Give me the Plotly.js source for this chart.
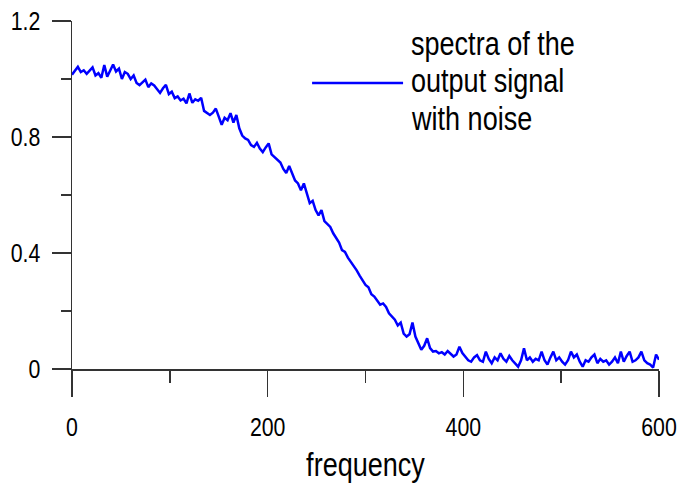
<!DOCTYPE html>
<html>
<head>
<meta charset="utf-8">
<script src="https://cdn.plot.ly/plotly-3.0.1.min.js"></script>
<style>
  html, body { margin: 0; padding: 0; background: #fff; }
  #chart { width: 681px; height: 483px; }
</style>
</head>
<body>
<div id="chart"></div>
<script>
// Spectrum of the output signal with noise, sampled every 3 frequency units (0..600)
const FREQ_STEP = 3;
const amplitude = [
  1.015, 1.030, 1.042, 1.024, 1.030, 1.018, 1.028, 1.040, 1.012, 1.020,
  1.004, 1.048, 1.008, 1.030, 1.050, 1.026, 1.036, 1.000, 1.024, 1.018,
  1.000, 1.012, 0.986, 0.979, 0.990, 0.998, 0.972, 0.985, 0.978, 0.966,
  0.952, 0.968, 0.980, 0.948, 0.956, 0.934, 0.940, 0.926, 0.932, 0.916,
  0.950, 0.918, 0.930, 0.925, 0.935, 0.890, 0.882, 0.876, 0.884, 0.898,
  0.870, 0.842, 0.866, 0.858, 0.882, 0.850, 0.876, 0.830, 0.805, 0.795,
  0.790, 0.772, 0.766, 0.780, 0.760, 0.748, 0.764, 0.778, 0.740, 0.730,
  0.722, 0.712, 0.690, 0.676, 0.700, 0.672, 0.650, 0.640, 0.616, 0.640,
  0.606, 0.572, 0.580, 0.548, 0.530, 0.548, 0.510, 0.500, 0.490, 0.468,
  0.450, 0.436, 0.410, 0.404, 0.384, 0.370, 0.352, 0.340, 0.322, 0.308,
  0.290, 0.282, 0.258, 0.250, 0.236, 0.222, 0.226, 0.214, 0.192, 0.180,
  0.170, 0.150, 0.160, 0.122, 0.112, 0.120, 0.160, 0.112, 0.090, 0.066,
  0.080, 0.106, 0.072, 0.060, 0.062, 0.054, 0.058, 0.050, 0.062, 0.052,
  0.043, 0.050, 0.077, 0.055, 0.043, 0.030, 0.025, 0.040, 0.048, 0.030,
  0.025, 0.060, 0.035, 0.020, 0.040, 0.030, 0.054, 0.035, 0.025, 0.045,
  0.030, 0.020, 0.008, 0.030, 0.071, 0.030, 0.040, 0.025, 0.035, 0.030,
  0.060, 0.030, 0.015, 0.040, 0.060, 0.030, 0.040, 0.025, 0.015, 0.030,
  0.060, 0.040, 0.050, 0.025, 0.008, 0.030, 0.025, 0.040, 0.050, 0.020,
  0.035, 0.025, 0.030, 0.015, 0.025, 0.040, 0.020, 0.060, 0.025, 0.045,
  0.060, 0.025, 0.030, 0.040, 0.060, 0.030, 0.020, 0.015, 0.005, 0.050,
  0.032
];
const frequency = amplitude.map((_, i) => i * FREQ_STEP);

const xTickVals = [0, 200, 400, 600];
const xTickText = ['0', '200', '400', '600'];
const yTickVals = [0, 0.4, 0.8, 1.2];
const yTickText = ['0', '0.4', '0.8', '1.2'];
const legendLines = ['spectra of the', 'output signal', 'with noise'];
const xTitle = 'frequency';

const FONT = '"Liberation Sans", Arial, sans-serif';
const NARROW = 0.82;            // horizontal squeeze giving a narrow sans look
const AXIS_COLOR = '#333333';
const LINE_COLOR = 'rgb(0,0,255)';

const trace = {
  x: frequency,
  y: amplitude,
  type: 'scatter',
  mode: 'lines',
  line: { color: LINE_COLOR, width: 2.5 },
  showlegend: false,
  hoverinfo: 'x+y'
};

// Hand-placed key: a line sample followed by three lines of text
const keyTop = 0.935, keyStep = 0.107;
const annotations = legendLines.map((t, i) => ({
  xref: 'paper', yref: 'paper',
  x: 0.5758, y: keyTop - i * keyStep,
  xanchor: 'left', yanchor: 'middle', align: 'left',
  text: t, showarrow: false, borderpad: 0,
  font: { family: FONT, size: 33, color: '#000' }
}));

const layout = {
  width: 681,
  height: 483,
  margin: { l: 72, r: 22, t: 21, b: 114, pad: 0 },
  paper_bgcolor: '#fff',
  plot_bgcolor: '#fff',
  showlegend: false,
  font: { family: FONT, color: '#000' },
  xaxis: {
    range: [0, 600],
    tickmode: 'array', tickvals: xTickVals, ticktext: xTickText,
    ticks: 'outside', ticklen: 26, tickwidth: 1.5, tickcolor: AXIS_COLOR,
    minor: { dtick: 100, ticks: 'outside', ticklen: 12, tickwidth: 1.5, tickcolor: AXIS_COLOR, showgrid: false },
    showline: true, linecolor: AXIS_COLOR, linewidth: 1.5,
    showgrid: false, zeroline: false,
    ticklabeloverflow: 'allow',
    ticklabelstandoff: 8,
    tickfont: { family: FONT, size: 26, color: '#000' },
    title: { text: xTitle, font: { family: FONT, size: 33, color: '#000' }, standoff: 12 },
    automargin: false
  },
  yaxis: {
    range: [0, 1.2],
    tickmode: 'array', tickvals: yTickVals, ticktext: yTickText,
    ticks: 'outside', ticklen: 19, tickwidth: 1.5, tickcolor: AXIS_COLOR,
    minor: { dtick: 0.2, ticks: 'outside', ticklen: 10, tickwidth: 1.5, tickcolor: AXIS_COLOR, showgrid: false },
    showline: true, linecolor: AXIS_COLOR, linewidth: 1.5,
    showgrid: false, zeroline: false,
    ticklabeloverflow: 'allow',
    ticklabelstandoff: 6,
    tickfont: { family: FONT, size: 26, color: '#000' },
    automargin: false
  },
  shapes: [{
    type: 'line', xref: 'paper', yref: 'paper',
    x0: 0.409, x1: 0.564, y0: 0.822, y1: 0.822,
    line: { color: LINE_COLOR, width: 2.5 }
  }],
  annotations: annotations
};

// Squeeze each text horizontally about its own anchor point
function narrowText(gd) {
  const sel = '.xtick text, .ytick text, text.xtitle, text.annotation-text';
  gd.querySelectorAll(sel).forEach(el => {
    const x = parseFloat(el.getAttribute('x')) || 0;
    const prev = el.getAttribute('transform') || '';
    el.setAttribute('transform',
      `${prev} translate(${x},0) scale(${NARROW},1) translate(${-x},0)`.trim());
  });
}

Plotly.newPlot('chart', [trace], layout, { staticPlot: true, displayModeBar: false })
  .then(narrowText);
</script>
</body>
</html>
